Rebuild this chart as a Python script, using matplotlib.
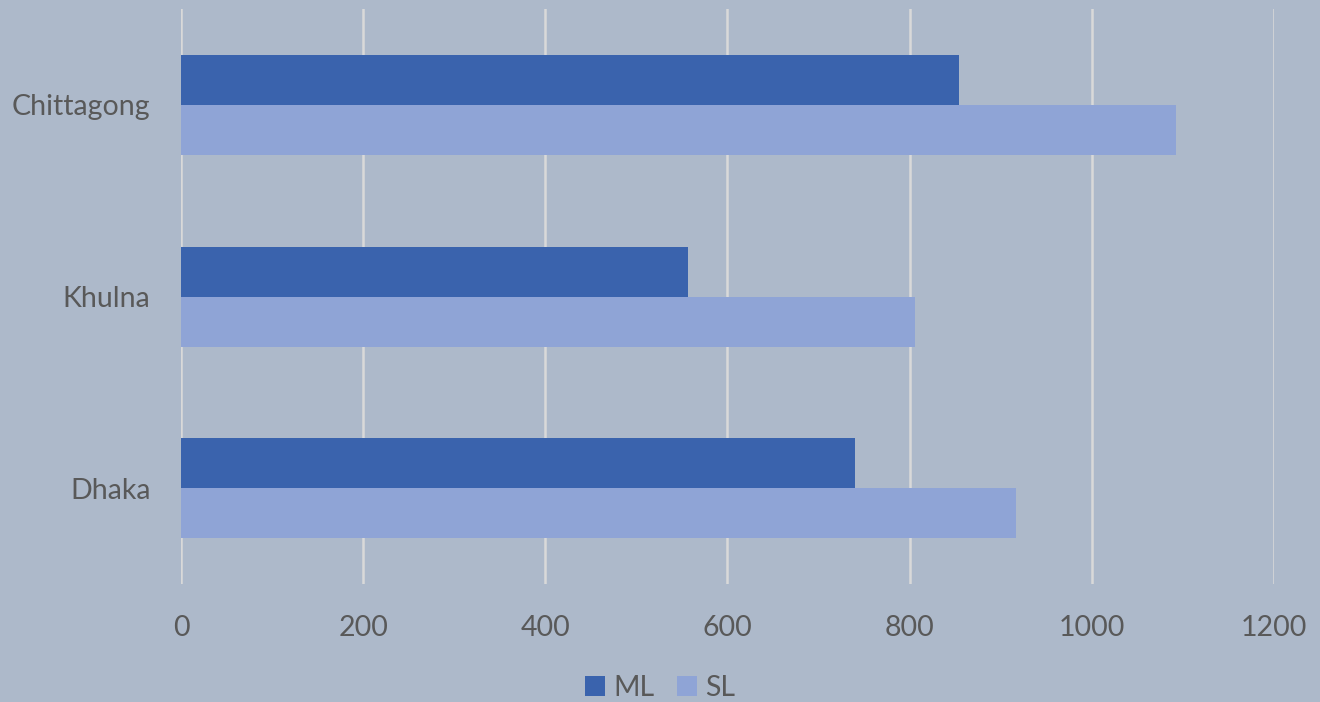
import matplotlib.pyplot as plt
import numpy as np

cities = ['Dhaka', 'Khulna', 'Chittagong']
ml = [740, 557, 854]
sl = [917, 806, 1092]
xticks = [0, 200, 400, 600, 800, 1000, 1200]

plt.rcParams['font.family'] = ['Lato', 'DejaVu Sans']

bg = '#ADB9CA'
fig = plt.figure(figsize=(13.2, 7.02), dpi=100, facecolor=bg)
ax = fig.add_axes([0.1371, 0.168, 0.828, 0.819], facecolor=bg)

y = np.arange(len(cities))
h = 0.261
ax.barh(y + h / 2, ml, height=h, color='#3A63AD', label='ML', zorder=3)
ax.barh(y - h / 2, sl, height=h, color='#8FA4D6', label='SL', zorder=3)

ax.set_xlim(0, 1200)
ax.set_ylim(-0.5, 2.5)
ax.set_xticks(xticks)
ax.set_yticks(y)
ax.set_yticklabels(cities)
ax.grid(axis='x', color='#D9D9D9', linewidth=1.8, zorder=0)
ax.tick_params(axis='both', length=0, labelsize=20.5, labelcolor='#595959')
ax.tick_params(axis='x', pad=22)
ax.tick_params(axis='y', pad=22)
for s in ax.spines.values():
    s.set_visible(False)

fig.legend(loc='center', bbox_to_anchor=(0.5, 0.02), ncol=2, frameon=False,
           fontsize=20.5, labelcolor='#595959', handlelength=0.7, handleheight=0.7,
           handletextpad=0.3, columnspacing=0.8)

fig.savefig('out.png', dpi=100, facecolor=bg)
